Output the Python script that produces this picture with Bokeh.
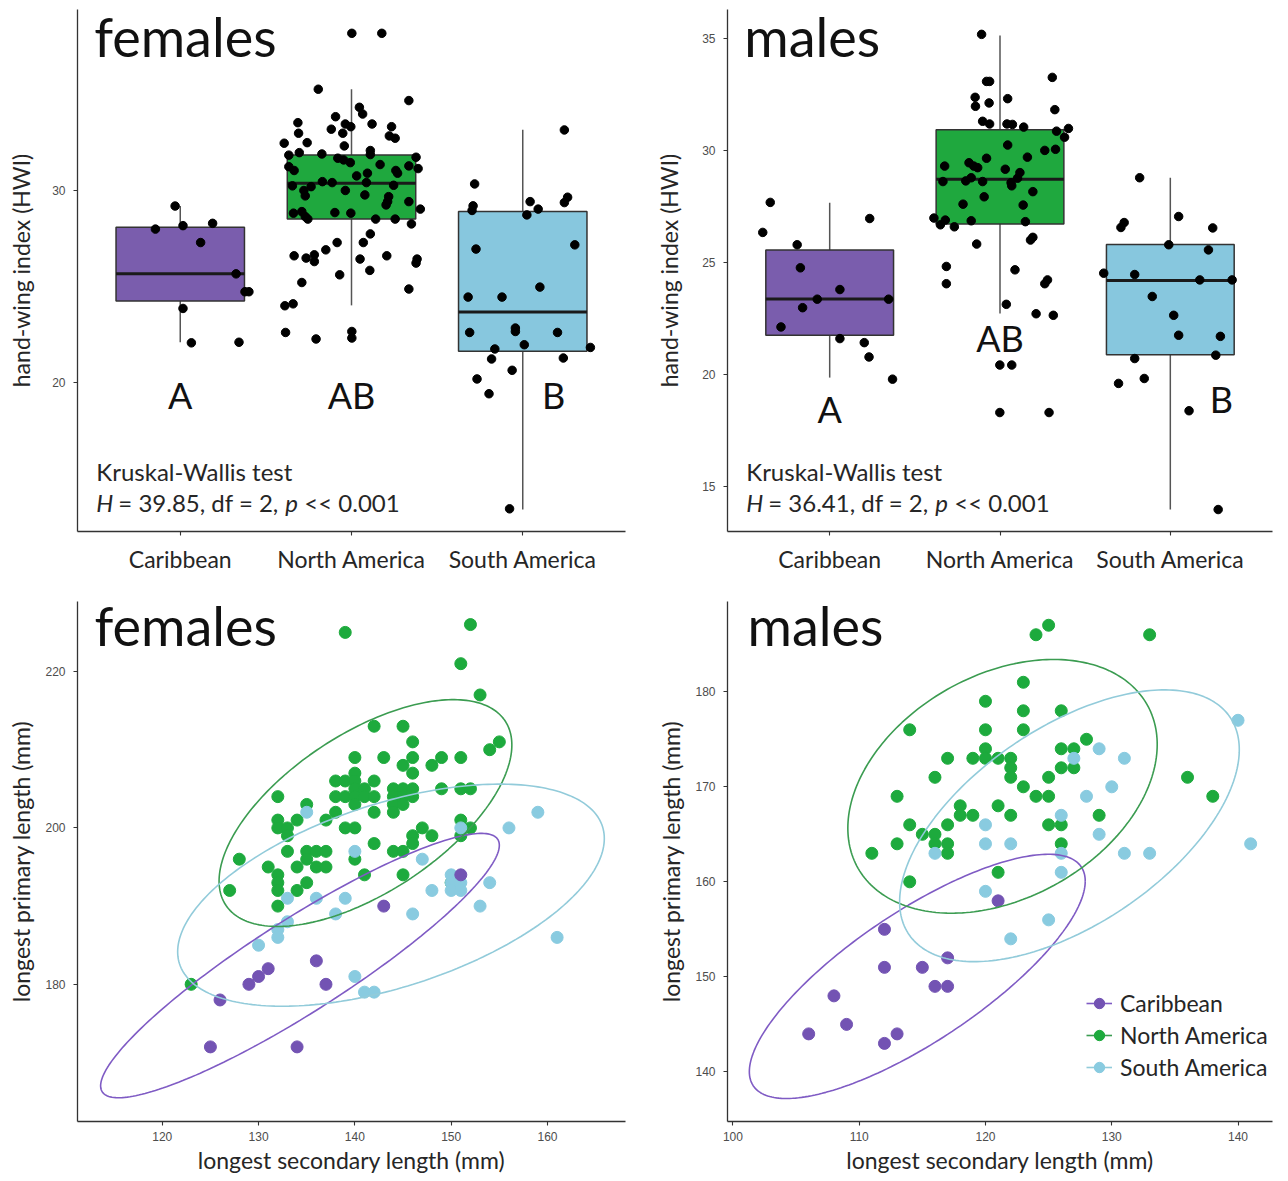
import numpy as np
from bokeh.plotting import figure
from bokeh.models import Range1d, FixedTicker, Label, Legend, LegendItem
from bokeh.layouts import gridplot
from bokeh.embed import file_html
from bokeh.resources import INLINE
from bokeh.core.properties import value

regions = ["Caribbean", "North America", "South America"]
box_fill = ["#7A5DAD", "#1FA83E", "#87C7DE"]
pt_color = ["#7353B3", "#1DAA3D", "#89CBE0"]
ell_color = ["#7F5BC4", "#3B9C51", "#92CBDA"]

# ---------------- hand-wing index boxplots ----------------
fem_lo = [22.12, 24.04, 13.41]
fem_q1 = [24.27, 28.54, 21.65]
fem_med = [25.68, 30.40, 23.69]
fem_q3 = [28.11, 31.87, 28.93]
fem_hi = [29.21, 35.29, 33.18]

male_lo = [19.88, 22.74, 13.99]
male_q1 = [21.77, 26.74, 20.90]
male_med = [23.39, 28.73, 24.21]
male_q3 = [25.57, 30.94, 25.82]
male_hi = [27.68, 35.15, 28.80]

fem_car_hwi = [29.21, 28.01, 28.19, 28.31, 27.31, 25.68, 24.75, 24.75, 23.88, 22.09, 22.12]
fem_car_jit = [-0.030, -0.145, 0.016, 0.189, 0.119, 0.326, 0.378, 0.401, 0.016, 0.065, 0.343]

fem_na_hwi = [38.20, 38.20, 35.29, 34.70, 34.35, 34.00, 33.86, 33.55, 33.48, 33.34, 33.48, 33.34,
              33.21, 33.00, 33.00, 32.86, 32.74, 32.48, 32.51, 32.34, 32.10, 31.86, 31.99, 31.92,
              31.89, 31.75, 31.70, 31.61, 31.47, 31.37, 31.26, 31.06, 31.30, 31.16, 31.06, 30.92,
              30.92, 30.78, 30.48, 30.43, 30.43, 30.29, 30.26, 30.22, 30.02, 30.02, 29.74, 29.79,
              29.70, 29.44, 29.44, 29.27, 29.05, 28.84, 28.92, 28.66, 28.53, 28.87, 28.84, 28.53,
              28.53, 28.28, 27.76, 27.31, 27.31, 26.93, 26.62, 26.50, 26.67, 26.32, 26.45, 26.62,
              26.45, 26.24, 25.63, 25.86, 25.23, 24.89, 24.02, 24.12, 22.63, 22.29, 22.68, 22.34]
fem_na_jit = [0.002, 0.177, -0.194, 0.335, 0.046, 0.065, -0.093, -0.313, -0.036, -0.004, 0.120, 0.234,
              -0.118, -0.309, -0.051, 0.221, 0.255, -0.393, -0.259, -0.042, 0.110, -0.366, -0.305, -0.173,
              0.110, 0.377, -0.080, -0.046, -0.007, 0.167, -0.366, -0.335, 0.335, 0.389, 0.259, 0.269,
              0.093, 0.030, -0.170, -0.113, 0.087, 0.246, -0.345, -0.236, -0.036, -0.278, -0.270, 0.078,
              0.217, 0.211, 0.335, 0.202, 0.402, -0.339, -0.290, -0.270, -0.255, -0.097, -0.004, 0.141,
              0.255, 0.350, 0.110, -0.084, 0.069, -0.150, -0.335, -0.265, -0.217, -0.217, 0.050, 0.206,
              0.383, 0.377, -0.069, 0.107, -0.290, 0.335, -0.389, -0.341, -0.385, -0.207, 0.002, 0.002]

fem_sa_hwi = [33.17, 30.36, 29.22, 28.98, 29.44, 29.05, 28.75, 29.67, 29.39, 26.97, 27.19, 24.47, 24.47,
              24.99, 22.63, 22.86, 22.68, 22.63, 21.77, 21.99, 21.85, 21.25, 21.30, 20.66, 20.21, 19.44, 13.45]
fem_sa_jit = [0.243, -0.281, -0.290, -0.296, 0.043, 0.090, 0.024, 0.262, 0.243, -0.273, 0.304, -0.319, -0.121,
              0.100, -0.310, -0.043, -0.043, 0.203, -0.163, 0.009, 0.395, -0.182, 0.237, -0.062, -0.267, -0.197, -0.077]

male_car_hwi = [27.70, 26.36, 25.81, 26.98, 24.78, 23.81, 23.38, 23.38, 23.00, 22.14, 21.62, 21.44, 20.80, 19.81]
male_car_jit = [-0.349, -0.393, -0.191, 0.235, -0.172, 0.060, -0.073, 0.346, -0.159, -0.286, 0.060, 0.203, 0.231, 0.369]

male_na_hwi = [35.20, 33.10, 33.10, 33.28, 32.39, 31.99, 32.14, 32.33, 31.84, 31.32, 31.20, 31.20, 31.18,
               31.06, 30.88, 31.00, 30.61, 30.26, 30.02, 30.07, 29.72, 29.67, 29.32, 29.47, 29.32, 29.25,
               29.18, 29.03, 28.63, 28.66, 28.80, 28.63, 28.58, 28.44, 28.78, 28.18, 27.95, 27.62, 27.58,
               27.00, 26.70, 26.91, 26.61, 26.88, 26.84, 26.02, 26.14, 25.84, 24.84, 24.07, 24.69, 24.07,
               24.24, 23.15, 22.73, 22.66, 20.44, 20.44, 18.32, 18.32]
male_na_jit = [-0.108, -0.079, -0.061, 0.307, -0.146, -0.144, -0.064, 0.045, 0.322, -0.102, -0.061, 0.041, 0.073,
               0.139, 0.332, 0.402, 0.379, 0.045, 0.263, 0.326, 0.161, -0.079, -0.325, -0.182, -0.154, -0.131,
               0.031, 0.117, -0.335, -0.201, -0.169, -0.102, 0.065, 0.069, 0.103, 0.193, -0.093, -0.217, 0.136,
               -0.388, -0.350, -0.321, -0.268, -0.169, 0.149, 0.179, 0.193, -0.137, -0.315, -0.315, 0.088, 0.263,
               0.279, 0.037, 0.212, 0.313, -0.001, 0.069, -0.001, 0.288]

male_sa_hwi = [28.80, 27.07, 26.58, 26.80, 26.56, 25.81, 25.58, 24.54, 24.48, 24.24, 24.24, 23.50, 22.66,
               21.77, 21.72, 20.73, 20.88, 19.62, 19.84, 18.40, 13.99]
male_sa_jit = [-0.180, 0.049, -0.290, -0.271, 0.249, -0.009, 0.224, -0.391, -0.209, 0.173, 0.363, -0.106, 0.020,
               0.049, 0.294, -0.209, 0.267, -0.304, -0.153, 0.110, 0.281]

group_letters = ["A", "AB", "B"]
fem_letter_x = [1.0, 2.0, 3.18]
fem_letter_y = [18.6, 18.6, 18.6]
male_letter_x = [1.0, 2.0, 3.30]
male_letter_y = [17.84, 21.02, 18.26]

fem_H = "39.85"
male_H = "36.41"
test_df = "2"

# ---------------- wing lengths (mm): secondary (x) vs primary (y) ----------------
fem_car_sec = [143, 136, 131, 130, 129, 137, 126, 125, 134, 151]
fem_car_pri = [190, 183, 182, 181, 180, 180, 178, 172, 172, 194]

fem_na_sec = [139, 152, 151, 153, 142, 145, 146, 155, 154,
              140, 143, 146, 149, 151, 145, 148, 146, 140,
              138, 139, 140, 142,
              140, 141, 144, 145, 146, 149, 151, 152,
              138, 139, 140, 141, 142, 144, 145, 146, 132,
              135, 140, 144, 145,
              138, 142, 144,
              132, 134, 137, 151,
              132, 133, 139, 140, 147, 152,
              133, 146, 148, 151,
              142, 146,
              128, 133, 135, 136, 137, 144, 145,
              135, 140,
              131, 134, 136, 137,
              132, 141, 145,
              132, 135, 150,
              127, 132, 134,
              132, 123]
fem_na_pri = [225, 226, 221, 217, 213, 213, 211, 211, 210,
              209, 209, 209, 209, 209, 208, 208, 207, 207,
              206, 206, 206, 206,
              205, 205, 205, 205, 205, 205, 205, 205,
              204, 204, 204, 204, 204, 204, 204, 204, 204,
              203, 203, 203, 203,
              202, 202, 202,
              201, 201, 201, 201,
              200, 200, 200, 200, 200, 200,
              199, 199, 199, 199,
              198, 198,
              196, 197, 197, 197, 197, 197, 197,
              196, 196,
              195, 195, 195, 195,
              194, 194, 194,
              193, 193, 193,
              192, 192, 192,
              190, 180]

fem_sa_sec = [135, 140, 133, 136, 139, 138, 133, 132, 132, 130, 140, 141, 142, 151,
              156, 159, 147, 150, 150, 151, 150, 151, 154, 148, 153, 146, 161]
fem_sa_pri = [202, 197, 191, 191, 191, 189, 188, 187, 186, 185, 181, 179, 179, 200,
              200, 202, 196, 194, 193, 193, 192, 192, 193, 192, 190, 189, 186]

male_car_sec = [121, 112, 112, 115, 117, 116, 117, 108, 109, 106, 113, 112]
male_car_pri = [158, 155, 151, 151, 152, 149, 149, 148, 145, 144, 144, 143]

male_na_sec = [124, 125, 133, 123, 120, 123, 126, 114, 120, 123, 128, 117, 119, 120, 120, 121,
               122, 122, 122, 126, 127, 126, 127, 116, 125, 123, 124, 125, 113, 136, 138, 118,
               118, 119, 121, 122, 129, 114, 117, 125, 126, 115, 116, 113, 116, 117, 117, 126,
               111, 114, 121]
male_na_pri = [186, 187, 186, 181, 179, 178, 178, 176, 176, 176, 175, 173, 173, 174, 173, 173,
               173, 172, 171, 174, 174, 172, 172, 171, 171, 170, 169, 169, 169, 171, 169, 168,
               167, 167, 168, 167, 167, 166, 166, 166, 166, 165, 165, 164, 164, 164, 163, 164,
               163, 160, 161]

male_sa_sec = [140, 129, 131, 127, 130, 128, 129, 126, 120, 120, 122, 116, 126, 131, 133, 141,
               126, 120, 125, 122]
male_sa_pri = [177, 174, 173, 173, 170, 169, 165, 167, 166, 164, 164, 163, 163, 163, 163, 164,
               161, 159, 156, 154]

# 95% ellipses: centre x, half-width x, centre y, half-height y, correlation
fem_ell_cx = [134.3, 141.1, 143.75]
fem_ell_ax = [20.7, 15.2, 22.15]
fem_ell_cy = [182.4, 201.9, 191.4]
fem_ell_ay = [16.9, 14.5, 14.2]
fem_ell_r = [0.91, 0.60, 0.51]

male_ell_cx = [114.6, 121.35, 126.65]
male_ell_ax = [13.3, 12.25, 13.45]
male_ell_cy = [150.05, 170.05, 165.9]
male_ell_ay = [12.85, 13.35, 14.3]
male_ell_r = [0.78, 0.33, 0.56]

FONT = "Lato"
NUMFONT = "Liberation Sans"
TXT = "#262626"
BASE_FIX = 0.4  # baseline correction (fraction of font size)


def style(p, ylab_standoff):
    p.outline_line_color = None
    p.xgrid.visible = False
    p.ygrid.visible = False
    p.background_fill_color = "white"
    for ax in (p.xaxis, p.yaxis):
        ax.axis_line_color = "#333333"
        ax.axis_line_width = 1.3
        ax.major_tick_line_color = "#333333"
        ax.major_tick_line_width = 1.1
        ax.major_tick_out = 4
        ax.major_tick_in = 0
        ax.minor_tick_line_color = None
        ax.axis_label_text_font = FONT
        ax.axis_label_text_font_style = "normal"
        ax.axis_label_text_font_size = "23px"
        ax.axis_label_text_color = TXT
    p.yaxis.major_label_text_font = NUMFONT
    p.yaxis.major_label_text_font_size = "12px"
    p.yaxis.major_label_text_color = "#4d4d4d"
    p.yaxis.major_label_standoff = 8
    p.yaxis.axis_label_standoff = ylab_standoff


def px_to_dy(p, fh, px):
    yr = p.y_range
    return px / fh * (yr.end - yr.start)


def add_title(p, text, fw, fh, dx, dy):
    xr, yr = p.x_range, p.y_range
    x = xr.start + dx / fw * (xr.end - xr.start)
    y = yr.end - dy / fh * (yr.end - yr.start) + px_to_dy(p, fh, BASE_FIX * 54)
    p.add_layout(Label(x=x, y=y, text=text, text_font=FONT, text_font_size="54px",
                       text_color="#111111", text_baseline="alphabetic", text_align="left"))


def box_panel(q1, med, q3, lo, hi, jits, vals, lx, ly, Hval, ylim, yticks,
              width, bl, br, title, ks_y1, ks_y2, ylab_standoff):
    height = 589
    bt, bb = 9, 58
    p = figure(width=width, height=height, x_range=Range1d(0.4, 3.6), y_range=Range1d(*ylim),
               output_backend="svg", toolbar_location=None,
               min_border_left=bl, min_border_right=br, min_border_top=bt, min_border_bottom=bb)
    fw = width - bl - br
    fh = height - bt - bb
    pos = [1, 2, 3]
    hw = 0.375
    p.segment(pos, q3, pos, hi, line_color="#555555", line_width=1.5)
    p.segment(pos, q1, pos, lo, line_color="#555555", line_width=1.5)
    p.quad(left=[x - hw for x in pos], right=[x + hw for x in pos], bottom=q1, top=q3,
           fill_color=box_fill, line_color="#333333", line_width=1.5)
    p.segment([x - hw for x in pos], med, [x + hw for x in pos], med, line_color="#1a1a1a", line_width=3)
    for i in range(3):
        p.scatter([pos[i] + j for j in jits[i]], vals[i], size=8.5, color="black")
    fix36 = px_to_dy(p, fh, BASE_FIX * 36)
    p.text(x=lx, y=[v + fix36 for v in ly], text=group_letters, text_font=value(FONT),
           text_font_size="36px", text_align="center", text_baseline="alphabetic",
           text_color="#111111")
    style(p, ylab_standoff)
    p.xaxis.ticker = FixedTicker(ticks=pos)
    p.xaxis.major_label_overrides = {1: regions[0], 2: regions[1], 3: regions[2]}
    p.xaxis.major_label_text_font = FONT
    p.xaxis.major_label_text_font_size = "23px"
    p.xaxis.major_label_text_color = TXT
    p.xaxis.major_label_standoff = 9
    p.yaxis.ticker = FixedTicker(ticks=yticks)
    p.yaxis.axis_label = "hand-wing index (HWI)"
    add_title(p, title, fw, fh, 17, 49)
    kx = 0.51
    fix24 = px_to_dy(p, fh, BASE_FIX * 24)
    p.add_layout(Label(x=kx, y=ks_y1 + fix24, text="Kruskal-Wallis test", text_font=FONT,
                       text_font_size="24px", text_color=TXT, text_baseline="alphabetic"))
    segs = [("H", "italic", 0), ("= " + Hval + ", df = " + test_df + ",", "normal", 22),
            ("p", "italic", 189), ("<< 0.001", "normal", 208)]
    for t, st, off in segs:
        p.add_layout(Label(x=kx, y=ks_y2 + fix24, x_offset=off, text=t, text_font=FONT,
                           text_font_style=st, text_font_size="24px", text_color=TXT,
                           text_baseline="alphabetic"))
    return p


def ellipse_pts(cx, ax, cy, ay, r):
    t = np.linspace(0, 2 * np.pi, 241)
    phi = np.arccos(r)
    return cx + ax * np.cos(t), cy + ay * np.cos(t + phi)


def scatter_panel(secs, pris, ecx, eax, ecy, eay, er, xlim, ylim, xticks, yticks,
                  width, bl, br, title, title_dx, legend=False):
    height = 588
    bt, bb = 12, 56
    p = figure(width=width, height=height, x_range=Range1d(*xlim), y_range=Range1d(*ylim),
               output_backend="svg", toolbar_location=None,
               min_border_left=bl, min_border_right=br, min_border_top=bt, min_border_bottom=bb)
    fw = width - bl - br
    fh = height - bt - bb
    sc = {}
    for i in [1, 2, 0]:
        sc[i] = p.scatter(secs[i], pris[i], size=12, color=pt_color[i])
    el = {}
    for i in range(3):
        ex, ey = ellipse_pts(ecx[i], eax[i], ecy[i], eay[i], er[i])
        el[i] = p.line(ex, ey, line_color=ell_color[i], line_width=1.6)
    style(p, 7)
    p.xaxis.ticker = FixedTicker(ticks=xticks)
    p.yaxis.ticker = FixedTicker(ticks=yticks)
    p.xaxis.major_label_text_font = NUMFONT
    p.xaxis.major_label_text_font_size = "12px"
    p.xaxis.major_label_text_color = "#4d4d4d"
    p.xaxis.major_label_standoff = 6
    p.xaxis.axis_label_standoff = 2
    p.xaxis.axis_label = "longest secondary length (mm)"
    p.yaxis.axis_label = "longest primary length (mm)"
    add_title(p, title, fw, fh, title_dx, 46)
    if legend:
        items = [LegendItem(label=regions[i], renderers=[el[i], sc[i]]) for i in range(3)]
        lg = Legend(items=items, location=(359, 40), orientation="vertical",
                    glyph_width=26, glyph_height=28, label_height=28, spacing=4,
                    label_standoff=8, padding=0, margin=0,
                    label_text_font=FONT, label_text_font_size="23px", label_text_color=TXT,
                    background_fill_alpha=0, border_line_alpha=0)
        p.add_layout(lg)
    return p


p1 = box_panel(fem_q1, fem_med, fem_q3, fem_lo, fem_hi,
               [fem_car_jit, fem_na_jit, fem_sa_jit], [fem_car_hwi, fem_na_hwi, fem_sa_hwi],
               fem_letter_x, fem_letter_y, fem_H, (12.27, 39.44), [20, 30],
               643, 77, 6, "females", 14.88, 13.28, 14)
p2 = box_panel(male_q1, male_med, male_q3, male_lo, male_hi,
               [male_car_jit, male_na_jit, male_sa_jit], [male_car_hwi, male_na_hwi, male_sa_hwi],
               male_letter_x, male_letter_y, male_H, (13.01, 36.31), [15, 20, 25, 30, 35],
               639, 84, 2, "males", 15.25, 13.88, 16)
p3 = scatter_panel([fem_car_sec, fem_na_sec, fem_sa_sec], [fem_car_pri, fem_na_pri, fem_sa_pri],
                   fem_ell_cx, fem_ell_ax, fem_ell_cy, fem_ell_ay, fem_ell_r,
                   (111.2, 168.1), (162.46, 228.95), [120, 130, 140, 150, 160], [180, 200, 220],
                   643, 77, 18, "females", 17)
p4 = scatter_panel([male_car_sec, male_na_sec, male_sa_sec], [male_car_pri, male_na_pri, male_sa_pri],
                   male_ell_cx, male_ell_ax, male_ell_cy, male_ell_ay, male_ell_r,
                   (99.57, 142.73), (134.78, 189.5), [100, 110, 120, 130, 140], [140, 150, 160, 170, 180],
                   639, 84, 10, "males", 20, legend=True)

grid = gridplot([[p1, p2], [p3, p4]], toolbar_location=None)
open("out.html", "w").write(file_html(grid, INLINE))
